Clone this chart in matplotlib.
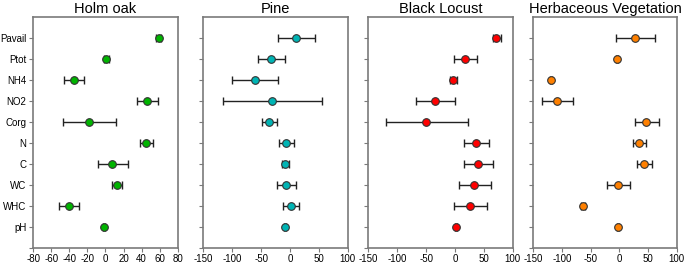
import matplotlib
matplotlib.use('Agg')
import matplotlib.pyplot as plt
import numpy as np

plt.rcParams['font.family'] = ['Liberation Sans', 'DejaVu Sans']

# ========== data ==========
variables = ['pH', 'WHC', 'WC', 'C', 'N', 'Corg', 'NO2', 'NH4', 'Ptot', 'Pavail']

titles = ['Holm oak', 'Pine', 'Black Locust', 'Herbaceous Vegetation']
colors = ['#00b400', '#00b4b4', '#ff0000', '#ff8000']

# effect sizes, order as in `variables` (pH first, Pavail last)
holm_mean = [-2, -40.8, 12.7, 7.2, 45, -18.3, 46, -35.3, 0.5, 59]
holm_low = [-3.2, -51.9, 6.8, -8.7, 37.8, -46.7, 35, -46.4, -2, 56.3]
holm_high = [-0.8, -29.4, 18.7, 25, 53, 11.6, 58.2, -23.5, 3.5, 61.9]

pine_mean = [-9.1, 1.3, -6.8, -8, -6.8, -36.3, -31.6, -60.5, -32.8, 10.5]
pine_low = [-11, -11.4, -22.4, -13.2, -18.4, -49, -116.5, -99.8, -55.3, -20]
pine_high = [-7, 15.7, 11.1, -1, 7.6, -22.4, 55, -20.1, -8.5, 42.8]

locust_mean = [1.8, 26.7, 33.6, 40, 37, -49.5, -34.5, -3.9, 17.4, 71.7]
locust_low = [-0.5, -1.6, 7.6, 16.3, 15.1, -119.9, -67.4, -9.1, -1.6, 65.3]
locust_high = [4, 55, 61.9, 65.3, 59.6, 23.2, 0.1, 3.6, 38.8, 79.2]

herb_mean = [-1.7, -63.4, -1.7, 43, 34.3, 47, -108.7, -119, -4, 27.3]
herb_low = [-3.5, -66.5, -22, 30.8, 24.4, 26.7, -135, -121, -6, -6.4]
herb_high = [0, -60.5, 18.6, 56.4, 46, 69.8, -81.4, -117, -2, 62.8]

means = [holm_mean, pine_mean, locust_mean, herb_mean]
lows = [holm_low, pine_low, locust_low, herb_low]
highs = [holm_high, pine_high, locust_high, herb_high]

xlims = [(-80, 80), (-150, 100), (-150, 100), (-150, 100)]
xticks = [np.arange(-80, 81, 20), np.arange(-150, 101, 50),
          np.arange(-150, 101, 50), np.arange(-150, 101, 50)]

# ========== figure ==========
fig = plt.figure(figsize=(6.85, 2.66), dpi=100)
lefts = [0.0486, 0.2968, 0.5377, 0.7786]
widths = [0.2108, 0.2108, 0.2108, 0.2094]
bottom, height = 0.0695, 0.8675

spine_col = '#7a7a7a'
y = np.arange(len(variables))

for i in range(4):
    ax = fig.add_axes([lefts[i], bottom, widths[i], height])
    m = np.array(means[i])
    lo = m - np.array(lows[i])
    hi = np.array(highs[i]) - m
    ax.errorbar(m, y, xerr=[lo, hi], fmt='none', ecolor='#222222',
                elinewidth=1.0, capsize=3, capthick=1.0, zorder=2)
    ax.plot(m, y, 'o', ms=5.5, mfc=colors[i], mec='#333333', mew=0.8, zorder=3)

    ax.set_xlim(*xlims[i])
    ax.set_ylim(-1, 10)
    ax.set_xticks(xticks[i])
    ax.set_xticklabels([str(v) for v in xticks[i]])
    ax.set_yticks(np.arange(-1, 10))
    if i == 0:
        ax.set_yticklabels([''] + variables)
    else:
        ax.set_yticklabels([])
    ax.tick_params(axis='both', direction='out', length=3, width=0.8,
                   color=spine_col, labelsize=7, pad=2)
    for s in ax.spines.values():
        s.set_color(spine_col)
        s.set_linewidth(1.2)
    ax.set_title(titles[i], fontsize=10.5, pad=3)

plt.savefig('out.png', dpi=100)
